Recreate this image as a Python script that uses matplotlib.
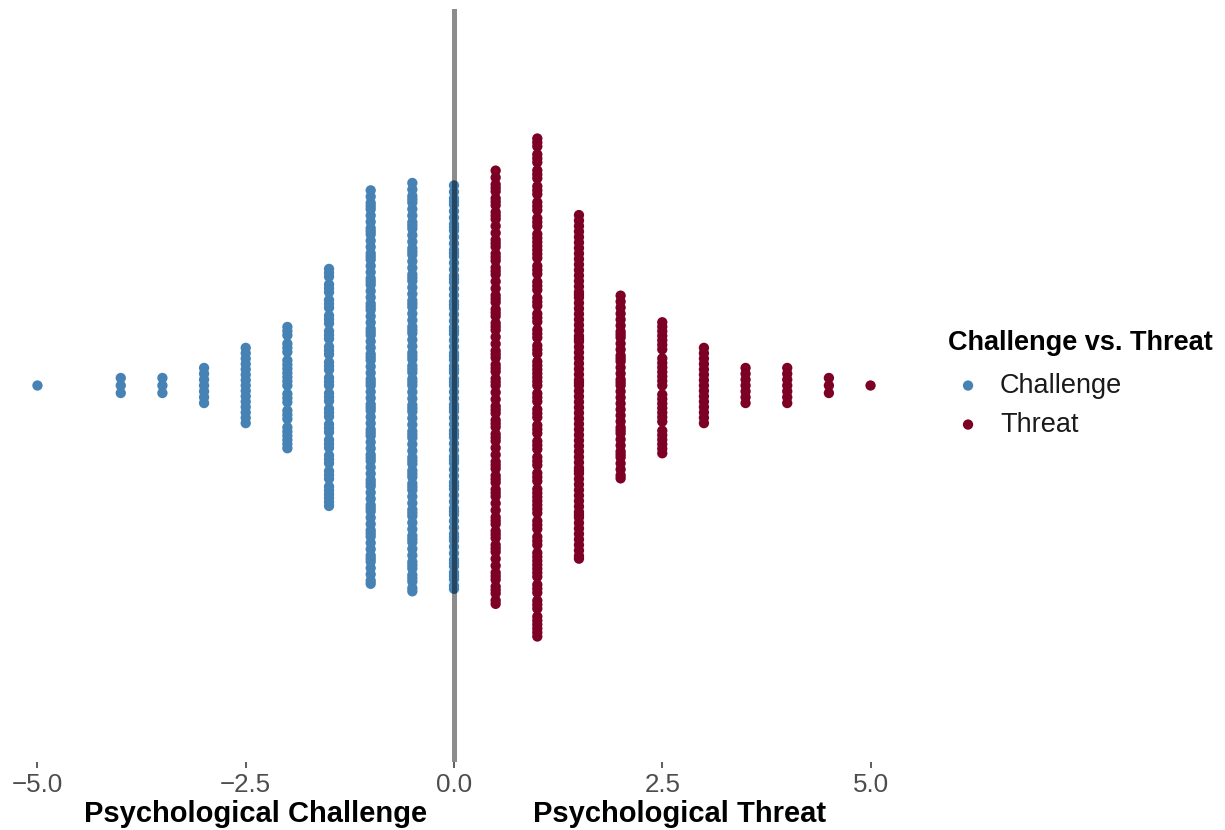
import matplotlib
matplotlib.use('Agg')
import matplotlib.pyplot as plt
import numpy as np

plt.rcParams['font.family'] = ['Liberation Sans', 'DejaVu Sans']

# score values and how many people got each score
scores = [-5.0, -4.0, -3.5, -3.0, -2.5, -2.0, -1.5, -1.0, -0.5, 0.0,
          0.5, 1.0, 1.5, 2.0, 2.5, 3.0, 3.5, 4.0, 4.5, 5.0]
counts = [1, 3, 3, 7, 15, 25, 48, 79, 82, 81,
          87, 100, 69, 37, 27, 15, 7, 7, 3, 1]
groups = ['Challenge', 'Threat']
colors = {'Challenge': '#4682B4', 'Threat': '#7D0025'}


def vdc(n, base=2):
  # van der Corput sequence, like the quasirandom beeswarm offsets
  out = []
  for i in range(1, n + 1):
    v, denom, k = 0.0, 1.0, i
    while k:
      denom *= base
      k, r = divmod(k, base)
      v += r / denom
    out.append(v)
  return np.array(out)


xs = {g: [] for g in groups}
ys = {g: [] for g in groups}
cmax = max(counts)
for sc, n in zip(scores, counts):
  g = 'Challenge' if sc <= 0 else 'Threat'
  off = 2 * vdc(n) - 1
  if n > 1:
    off = off / np.abs(off).max()
  else:
    off = np.zeros(1)
  width = 0.4 * n / cmax
  xs[g].extend([sc] * n)
  ys[g].extend(list(off * width))

fig = plt.figure(figsize=(12.25, 8.3), dpi=100)
ax = fig.add_axes([-4.2 / 1225, 68 / 830, 916.4 / 1225, 753 / 830])

for g in groups:
  ax.scatter(xs[g], ys[g], s=55, color=colors[g], edgecolors='none',
             label=g, zorder=2)

ax.axvline(0, color='black', alpha=0.45, lw=3.6, zorder=3)

ax.set_xlim(-5.5, 5.5)
ax.set_ylim(-0.6, 0.6)
ax.set_xticks([-5.0, -2.5, 0.0, 2.5, 5.0])
ax.set_xticklabels(['\u22125.0', '\u22122.5', '0.0', '2.5', '5.0'])
ax.set_yticks([])
ax.tick_params(axis='x', length=4.3, width=1.1, color='#333333',
               labelsize=18.7, labelcolor='#4D4D4D', pad=3.5)
for sp in ax.spines.values():
  sp.set_visible(False)
ax.set_facecolor('white')

leg = ax.legend(loc='upper left', bbox_to_anchor=(948 / 1225, 1 - 330 / 830),
                bbox_transform=fig.transFigure, frameon=False,
                title='Challenge vs. Threat', fontsize=19.5,
                title_fontproperties={'weight': 'bold', 'size': 19.5},
                alignment='left', borderpad=0, borderaxespad=0,
                handlelength=1.48, handletextpad=0.44, labelspacing=0.48,
                scatterpoints=1, markerscale=1.0)
# a bit more room under the title, as in ggplot
leg._legend_box.sep = 12
for t in leg.get_texts():
  t.set_color('#1A1A1A')

fig.text(255.5 / 1225, 1 - 814 / 830, 'Psychological Challenge',
         ha='center', va='center', fontsize=21, fontweight='bold')
fig.text(680 / 1225, 1 - 814 / 830, 'Psychological Threat',
         ha='center', va='center', fontsize=21, fontweight='bold')

fig.savefig('out.png', dpi=100, facecolor='white')
